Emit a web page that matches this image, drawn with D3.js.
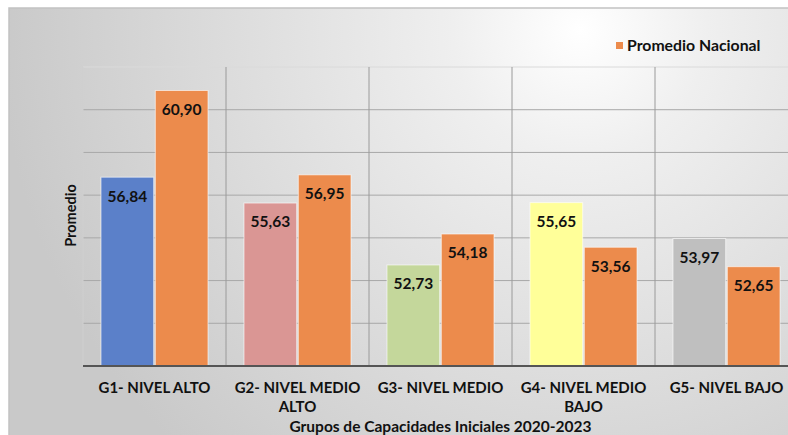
<!DOCTYPE html>
<html>
<head>
<meta charset="utf-8">
<script src="https://cdn.jsdelivr.net/npm/d3@7"></script>
<style>
  html, body { margin: 0; padding: 0; background: #ffffff; }
  svg { display: block; font-family: Lato, "Open Sans", sans-serif; }
</style>
</head>
<body>
<svg id="chart" width="788" height="435"></svg>
<script>
const categories = ["G1- NIVEL ALTO", "G2- NIVEL MEDIO ALTO", "G3- NIVEL MEDIO", "G4- NIVEL MEDIO BAJO", "G5- NIVEL BAJO"];
const groupValues = [56.84, 55.63, 52.73, 55.65, 53.97];
const nationalValues = [60.90, 56.95, 54.18, 53.56, 52.65];
const groupColors = ["#5b80c9", "#da9694", "#c4d79b", "#ffff99", "#bfbfbf"];
const nationalColor = "#ec8b4c";
const seriesNames = ["Grupo", "Promedio Nacional"];
const yTicks = [48, 50, 52, 54, 56, 58, 60, 62];
const yTitle = "Promedio";
const xTitle = "Grupos de Capacidades Iniciales 2020-2023";

const svg = d3.select("#chart");
const W = 788, H = 435;
const m = { left: 83, right: -10, top: 67, bottom: 69 };
const plotW = W - m.left - m.right;
const plotH = H - m.top - m.bottom;

// background panel with gradient
const defs = svg.append("defs");
const rg = defs.append("radialGradient").attr("id", "bg")
  .attr("gradientUnits", "userSpaceOnUse")
  .attr("cx", 580).attr("cy", 30).attr("r", 580);
rg.append("stop").attr("offset", "0").attr("stop-color", "#ffffff");
rg.append("stop").attr("offset", "0.22").attr("stop-color", "#efefef");
rg.append("stop").attr("offset", "1").attr("stop-color", "#c9c9c9");

svg.append("rect").attr("x", 9).attr("y", 8).attr("width", W).attr("height", H)
  .attr("fill", "url(#bg)").attr("stroke", "#c2c2c2").attr("stroke-width", 1.5);

const g = svg.append("g").attr("transform", `translate(${m.left},${m.top})`);

const x0 = d3.scaleBand().domain(categories).range([0, plotW]).paddingInner(0).paddingOuter(0);
const x1 = d3.scaleBand().domain(seriesNames).range([18, x0.bandwidth() - 18]).paddingInner(0.03);
const y = d3.scaleLinear().domain([48, 62]).range([plotH, 0]);

// horizontal gridlines
g.append("g").selectAll("line").data(yTicks.filter(t => t > 48)).join("line")
  .attr("x1", 0).attr("x2", plotW)
  .attr("y1", d => y(d)).attr("y2", d => y(d))
  .attr("stroke", d => d === 62 ? "#dadada" : "#a8a8a8").attr("stroke-width", 1);

// vertical gridlines at category boundaries
g.append("g").selectAll("line").data(categories).join("line")
  .attr("x1", d => x0(d)).attr("x2", d => x0(d))
  .attr("y1", 0).attr("y2", plotH)
  .attr("stroke", (d, i) => i === 0 ? "#cfcfcf" : "#9a9a9a").attr("stroke-width", 1);

// bars
const fmt = v => d3.format(".2f")(v).replace(".", ",");
const rows = categories.map((c, i) => ({ c, i, vals: [groupValues[i], nationalValues[i]] }));
const cg = g.append("g").selectAll("g").data(rows).join("g")
  .attr("transform", d => `translate(${x0(d.c)},0)`);

cg.selectAll("rect").data(d => d.vals.map((v, k) => ({ v, k, i: d.i }))).join("rect")
  .attr("x", d => x1(seriesNames[d.k]))
  .attr("width", x1.bandwidth())
  .attr("y", d => y(d.v))
  .attr("height", d => y(48) - y(d.v))
  .attr("fill", d => d.k === 0 ? groupColors[d.i] : nationalColor)
  .attr("stroke", "rgba(255,255,255,0.6)").attr("stroke-width", 1);

cg.selectAll("text").data(d => d.vals.map((v, k) => ({ v, k, i: d.i }))).join("text")
  .attr("x", d => x1(seriesNames[d.k]) + x1.bandwidth() / 2)
  .attr("y", d => y(d.v) + 19)
  .attr("dy", "0.35em")
  .attr("text-anchor", "middle")
  .attr("font-size", 15.5).attr("font-weight", 700).attr("fill", "#111")
  .text(d => fmt(d.v));

// baseline axis
g.append("line").attr("x1", 0).attr("x2", plotW).attr("y1", y(48)).attr("y2", y(48))
  .attr("stroke", "#555").attr("stroke-width", 2);

// x category labels (wrapped)
const xl = g.append("g").selectAll("text").data(categories).join("text")
  .attr("x", d => x0(d) + x0.bandwidth() / 2)
  .attr("y", plotH + 27)
  .attr("text-anchor", "middle")
  .attr("font-size", 15).attr("font-weight", 700).attr("fill", "#111");

xl.each(function(d) {
  const t = d3.select(this);
  const words = d.split(" ");
  const maxW = x0.bandwidth() - 10;
  let line = [];
  let ts = t.append("tspan").attr("x", x0(d) + x0.bandwidth() / 2).attr("dy", 0);
  words.forEach(w => {
    line.push(w);
    ts.text(line.join(" "));
    if (ts.node().getComputedTextLength() > maxW && line.length > 1) {
      line.pop();
      ts.text(line.join(" "));
      line = [w];
      ts = t.append("tspan").attr("x", x0(d) + x0.bandwidth() / 2).attr("dy", 19).text(w);
    }
  });
});

// axis titles
svg.append("text")
  .attr("transform", `translate(76,${m.top + plotH / 2 - 1}) rotate(-90)`)
  .attr("text-anchor", "middle")
  .attr("font-size", 14.5).attr("font-weight", 700).attr("fill", "#111")
  .text(yTitle);

svg.append("text")
  .attr("x", m.left + plotW / 2).attr("y", 432)
  .attr("text-anchor", "middle")
  .attr("font-size", 15.5).attr("font-weight", 700).attr("fill", "#111")
  .text(xTitle);

// legend (national series only)
const lg = svg.append("g").attr("transform", "translate(616,42)");
lg.append("rect").attr("x", 0).attr("y", 0).attr("width", 7).attr("height", 7).attr("fill", nationalColor);
lg.append("text").attr("x", 11).attr("y", 3.5).attr("dy", "0.35em")
  .attr("font-size", 15.8).attr("font-weight", 700).attr("fill", "#111")
  .text(seriesNames[1]);
</script>
</body>
</html>
